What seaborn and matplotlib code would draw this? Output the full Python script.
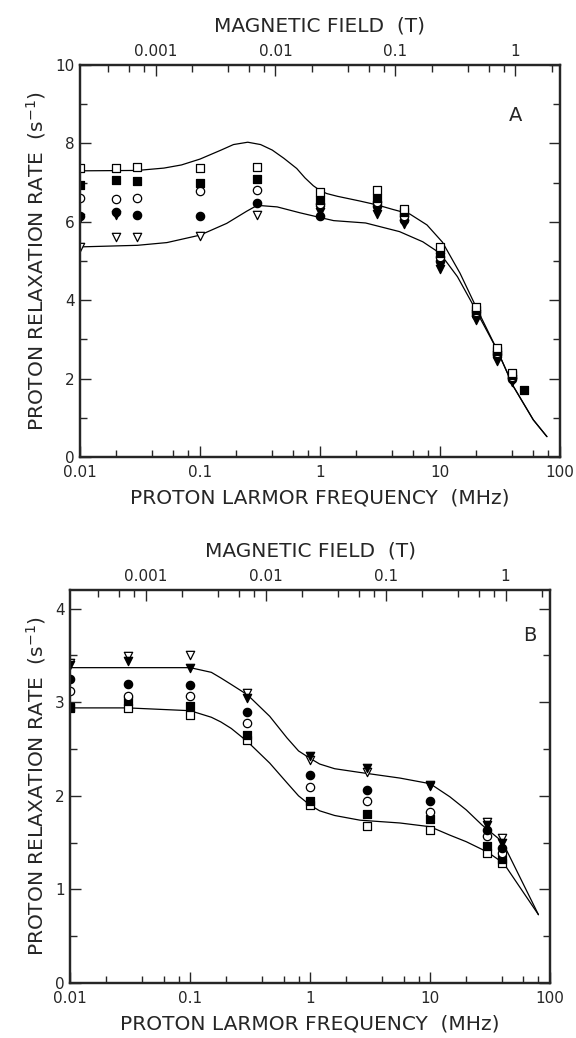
import numpy as np
import matplotlib
matplotlib.use("Agg")
import matplotlib.pyplot as plt
import matplotlib.ticker as mticker
import seaborn as sns

# --- panel A: measured points (MHz, s^-1) ---
freq_a = [0.01, 0.02, 0.03, 0.1, 0.3, 1, 3, 5, 10, 20, 30, 40, 50]
a_open_sq = [7.38, 7.38, 7.40, 7.38, 7.39, 6.75, 6.80, 6.32, 5.35, 3.82, 2.78, 2.15, np.nan]
a_fill_sq = [6.95, 7.06, 7.04, 7.00, 7.10, 6.55, 6.60, 6.25, 5.20, 3.75, 2.70, 2.10, 1.72]
a_open_ci = [6.61, 6.58, 6.61, 6.78, 6.80, 6.45, 6.50, 6.15, 5.10, 3.70, 2.65, 2.05, np.nan]
a_fill_ci = [6.15, 6.25, 6.17, 6.15, 6.48, 6.15, 6.40, 6.05, 5.00, 3.62, 2.60, 2.00, np.nan]
a_open_tr = [5.36, 5.60, 5.62, 5.64, 6.17, 6.30, 6.35, 6.10, 5.10, 3.65, 2.60, 2.00, np.nan]
a_fill_tr = [6.10, 6.18, np.nan, np.nan, np.nan, 6.25, 6.20, 5.95, 4.80, 3.50, 2.45, 1.92, np.nan]

# --- panel A: fitted curves ---
fit_a_up_f = [0.01, 0.03, 0.05, 0.07, 0.1, 0.15, 0.19, 0.25, 0.32, 0.4, 0.5, 0.64, 0.75,
              0.88, 1.0, 1.14, 1.4, 2.15, 3, 4, 5.6, 7.8, 10.5, 14.7, 20, 30, 41, 60, 78]
fit_a_up_r = [7.30, 7.31, 7.37, 7.45, 7.60, 7.83, 7.97, 8.03, 7.97, 7.83, 7.62, 7.36, 7.12,
              6.92, 6.80, 6.72, 6.65, 6.53, 6.43, 6.32, 6.20, 5.92, 5.48, 4.69, 3.83, 2.73,
              1.80, 0.95, 0.52]
fit_a_lo_f = [0.01, 0.03, 0.053, 0.1, 0.167, 0.245, 0.3, 0.44, 0.68, 1, 1.3, 2.4, 4.6,
              7.2, 10, 14, 18.5, 30, 41, 60, 78]
fit_a_lo_r = [5.36, 5.40, 5.47, 5.66, 5.96, 6.27, 6.42, 6.38, 6.23, 6.11, 6.03, 5.97, 5.75,
              5.49, 5.20, 4.60, 3.93, 2.73, 1.80, 0.95, 0.52]

# --- panel B: measured points ---
freq_b = [0.01, 0.03, 0.1, 0.3, 1, 3, 10, 30, 40]
b_open_tr = [3.42, 3.49, 3.50, 3.10, 2.38, 2.26, 2.12, 1.72, 1.55]
b_fill_tr = [3.40, 3.44, 3.37, 3.05, 2.43, 2.30, 2.11, 1.69, 1.50]
b_fill_ci = [3.25, 3.20, 3.18, 2.90, 2.22, 2.06, 1.95, 1.63, 1.44]
b_open_ci = [3.12, 3.07, 3.07, 2.78, 2.09, 1.94, 1.83, 1.57, 1.39]
b_fill_sq = [2.95, 3.01, 2.96, 2.65, 1.94, 1.81, 1.75, 1.46, 1.33]
b_open_sq = [2.94, 2.94, 2.86, 2.60, 1.90, 1.68, 1.64, 1.39, 1.28]

# --- panel B: fitted curves ---
fit_b_up_f = [0.01, 0.03, 0.1, 0.15, 0.18, 0.22, 0.3, 0.46, 0.64, 0.8, 1.0, 1.2, 1.6, 2.6,
              5.6, 10, 14.6, 20, 27, 40, 80]
fit_b_up_r = [3.37, 3.37, 3.37, 3.32, 3.26, 3.19, 3.08, 2.85, 2.62, 2.48, 2.40, 2.34, 2.29,
              2.25, 2.19, 2.13, 1.99, 1.85, 1.69, 1.51, 0.73]
fit_b_lo_f = [0.01, 0.03, 0.1, 0.15, 0.18, 0.22, 0.3, 0.46, 0.64, 0.8, 1.0, 1.2, 1.6, 2.6,
              5.6, 10, 14.6, 20, 30, 41, 80]
fit_b_lo_r = [2.94, 2.94, 2.91, 2.84, 2.79, 2.72, 2.58, 2.35, 2.14, 2.00, 1.90, 1.84, 1.79,
              1.74, 1.71, 1.67, 1.58, 1.51, 1.40, 1.28, 0.73]

GAMMA = 42.58  # MHz per tesla

sns.set_style("ticks")
plt.rcParams['font.family'] = ['DejaVu Sans']

fig = plt.figure(figsize=(5.76, 10.38), dpi=100)
ax_a = fig.add_axes([0.139, 0.5597, 0.833, 0.3777])
ax_b = fig.add_axes([0.122, 0.0530, 0.833, 0.3786])

MS = 36
LAB = 14.5
TICK = 11


def draw_points(ax, f, vals, marker, filled):
    fc = 'black' if filled else 'white'
    sns.scatterplot(x=f, y=vals, marker=marker, s=MS, facecolor=fc,
                    edgecolor='black', linewidth=0.9, ax=ax, zorder=3)


def draw_curve(ax, f, r):
    sns.lineplot(x=f, y=r, color='black', lw=0.9, ax=ax, sort=False,
                 estimator=None, zorder=2)


def style_axes(ax, ymax, ymajor, yminor, letter, lx, ly):
    ax.set_xscale('log')
    ax.set_xlim(0.01, 100)
    ax.set_ylim(0, ymax)
    ax.xaxis.set_major_locator(mticker.FixedLocator([0.01, 0.1, 1, 10, 100]))
    ax.xaxis.set_major_formatter(mticker.FixedFormatter(['0.01', '0.1', '1', '10', '100']))
    ax.xaxis.set_minor_locator(mticker.LogLocator(base=10, subs=[2, 4, 6, 8]))
    ax.xaxis.set_minor_formatter(mticker.NullFormatter())
    ax.yaxis.set_major_locator(mticker.MultipleLocator(ymajor))
    ax.yaxis.set_minor_locator(mticker.MultipleLocator(yminor))
    ax.tick_params(which='both', direction='in', top=False, right=True,
                   labelsize=TICK, width=1.0)
    ax.tick_params(which='major', length=8)
    ax.tick_params(which='minor', length=5)
    ax.tick_params(axis='x', pad=6)
    ax.tick_params(axis='y', pad=4)
    for sp in ax.spines.values():
        sp.set_visible(True)
        sp.set_linewidth(1.6)
    ax.set_xlabel('PROTON LARMOR FREQUENCY  (MHz)', fontsize=LAB, labelpad=6)
    ax.set_ylabel('PROTON RELAXATION RATE  (s$^{-1}$)', fontsize=LAB, labelpad=5)
    ax.text(lx, ly, letter, transform=ax.transAxes, fontsize=14,
            ha='center', va='center')

    # magnetic field scale on top
    top = ax.twiny()
    top.set_xscale('log')
    top.set_xlim(0.01 / GAMMA, 100 / GAMMA)
    top.xaxis.set_major_locator(mticker.FixedLocator([0.001, 0.01, 0.1, 1]))
    top.xaxis.set_major_formatter(mticker.FixedFormatter(['0.001', '0.01', '0.1', '1']))
    top.xaxis.set_minor_locator(mticker.LogLocator(base=10, subs=[2, 4, 6, 8]))
    top.xaxis.set_minor_formatter(mticker.NullFormatter())
    top.tick_params(axis='x', which='both', direction='in', top=True, bottom=False,
                    labeltop=True, labelbottom=False, labelsize=TICK, width=1.0, pad=4)
    top.tick_params(axis='x', which='major', length=8)
    top.tick_params(axis='x', which='minor', length=5)
    for sp in top.spines.values():
        sp.set_linewidth(1.6)
    top.set_xlabel('MAGNETIC FIELD  (T)', fontsize=LAB, labelpad=9)


# Panel A
draw_curve(ax_a, fit_a_up_f, fit_a_up_r)
draw_curve(ax_a, fit_a_lo_f, fit_a_lo_r)
draw_points(ax_a, freq_a, a_open_tr, 'v', False)
draw_points(ax_a, freq_a, a_fill_tr, 'v', True)
draw_points(ax_a, freq_a, a_fill_ci, 'o', True)
draw_points(ax_a, freq_a, a_open_ci, 'o', False)
draw_points(ax_a, freq_a, a_fill_sq, 's', True)
draw_points(ax_a, freq_a, a_open_sq, 's', False)
style_axes(ax_a, 10, 2, 1, 'A', 0.908, 0.872)

# Panel B
draw_curve(ax_b, fit_b_up_f, fit_b_up_r)
draw_curve(ax_b, fit_b_lo_f, fit_b_lo_r)
draw_points(ax_b, freq_b, b_open_sq, 's', False)
draw_points(ax_b, freq_b, b_fill_sq, 's', True)
draw_points(ax_b, freq_b, b_open_ci, 'o', False)
draw_points(ax_b, freq_b, b_fill_ci, 'o', True)
draw_points(ax_b, freq_b, b_open_tr, 'v', False)
draw_points(ax_b, freq_b, b_fill_tr, 'v', True)
style_axes(ax_b, 4.2, 1, 0.5, 'B', 0.958, 0.883)

plt.savefig('out.png', dpi=100)
